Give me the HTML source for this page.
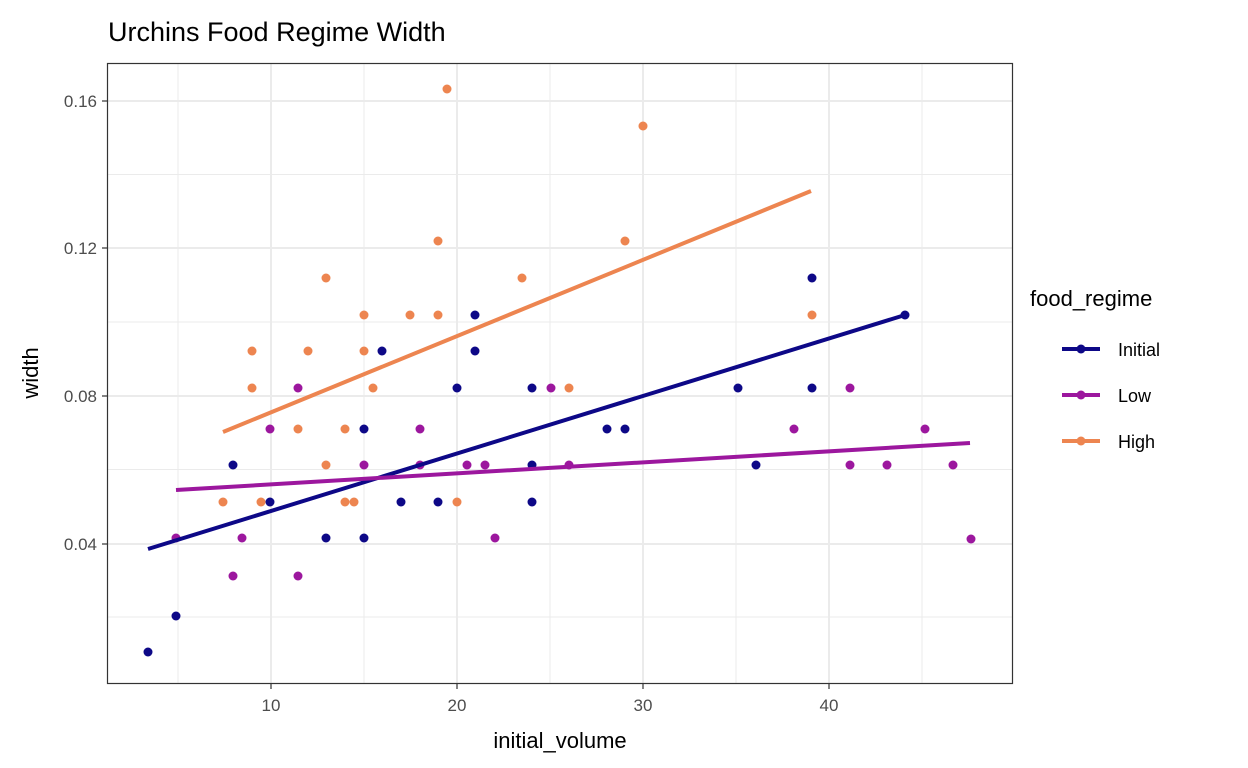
<!DOCTYPE html>
<html><head><style>body{margin:0;background:#fff}svg{display:block}text{font-family:"Liberation Sans",sans-serif}</style></head><body>
<svg width="1248" height="768" xmlns="http://www.w3.org/2000/svg">
<rect width="1248" height="768" fill="#fff"/>
<g stroke="#ebebeb" stroke-width="1">
<line x1="107" x2="1012" y1="174.5" y2="174.5"/><line x1="107" x2="1012" y1="322" y2="322"/><line x1="107" x2="1012" y1="469.5" y2="469.5"/><line x1="107" x2="1012" y1="617" y2="617"/>
<line y1="63" y2="683" x1="178" x2="178"/><line y1="63" y2="683" x1="364" x2="364"/><line y1="63" y2="683" x1="550" x2="550"/><line y1="63" y2="683" x1="736" x2="736"/><line y1="63" y2="683" x1="922" x2="922"/>
</g>
<g stroke="#ebebeb" stroke-width="2">
<line x1="107" x2="1012" y1="101" y2="101"/><line x1="107" x2="1012" y1="248" y2="248"/><line x1="107" x2="1012" y1="396" y2="396"/><line x1="107" x2="1012" y1="544" y2="544"/>
<line y1="63" y2="683" x1="271" x2="271"/><line y1="63" y2="683" x1="457" x2="457"/><line y1="63" y2="683" x1="643" x2="643"/><line y1="63" y2="683" x1="829" x2="829"/>
</g>
<g fill="#0D0887">
<circle cx="148" cy="652" r="4.5"/><circle cx="176" cy="616" r="4.5"/><circle cx="233" cy="465" r="4.5"/><circle cx="270" cy="502" r="4.5"/><circle cx="326" cy="538" r="4.5"/><circle cx="364" cy="538" r="4.5"/><circle cx="364" cy="429" r="4.5"/><circle cx="382" cy="351" r="4.5"/><circle cx="401" cy="502" r="4.5"/><circle cx="438" cy="502" r="4.5"/><circle cx="457" cy="388" r="4.5"/><circle cx="475" cy="315" r="4.5"/><circle cx="475" cy="351" r="4.5"/><circle cx="532" cy="388" r="4.5"/><circle cx="532" cy="465" r="4.5"/><circle cx="532" cy="502" r="4.5"/><circle cx="607" cy="429" r="4.5"/><circle cx="625" cy="429" r="4.5"/><circle cx="738" cy="388" r="4.5"/><circle cx="812" cy="278" r="4.5"/><circle cx="812" cy="388" r="4.5"/><circle cx="756" cy="465" r="4.5"/><circle cx="905" cy="315" r="4.5"/>
</g>
<g fill="#9C179E">
<circle cx="270" cy="429" r="4.5"/><circle cx="298" cy="388" r="4.5"/><circle cx="420" cy="429" r="4.5"/><circle cx="420" cy="465" r="4.5"/><circle cx="467" cy="465" r="4.5"/><circle cx="485" cy="465" r="4.5"/><circle cx="176" cy="538" r="4.5"/><circle cx="242" cy="538" r="4.5"/><circle cx="233" cy="576" r="4.5"/><circle cx="298" cy="576" r="4.5"/><circle cx="495" cy="538" r="4.5"/><circle cx="551" cy="388" r="4.5"/><circle cx="364" cy="465" r="4.5"/><circle cx="569" cy="465" r="4.5"/><circle cx="794" cy="429" r="4.5"/><circle cx="850" cy="388" r="4.5"/><circle cx="850" cy="465" r="4.5"/><circle cx="887" cy="465" r="4.5"/><circle cx="925" cy="429" r="4.5"/><circle cx="953" cy="465" r="4.5"/><circle cx="971" cy="539" r="4.5"/>
</g>
<g fill="#ED8550">
<circle cx="326" cy="278" r="4.5"/><circle cx="364" cy="315" r="4.5"/><circle cx="410" cy="315" r="4.5"/><circle cx="438" cy="315" r="4.5"/><circle cx="438" cy="241" r="4.5"/><circle cx="447" cy="89" r="4.5"/><circle cx="522" cy="278" r="4.5"/><circle cx="252" cy="351" r="4.5"/><circle cx="308" cy="351" r="4.5"/><circle cx="364" cy="351" r="4.5"/><circle cx="252" cy="388" r="4.5"/><circle cx="373" cy="388" r="4.5"/><circle cx="298" cy="429" r="4.5"/><circle cx="345" cy="429" r="4.5"/><circle cx="326" cy="465" r="4.5"/><circle cx="223" cy="502" r="4.5"/><circle cx="261" cy="502" r="4.5"/><circle cx="345" cy="502" r="4.5"/><circle cx="354" cy="502" r="4.5"/><circle cx="457" cy="502" r="4.5"/><circle cx="569" cy="388" r="4.5"/><circle cx="625" cy="241" r="4.5"/><circle cx="643" cy="126" r="4.5"/><circle cx="812" cy="315" r="4.5"/>
</g>
<g stroke-width="4" fill="none">
<line x1="223" y1="432" x2="811" y2="191" stroke="#ED8550"/>
<line x1="148" y1="549" x2="905" y2="315" stroke="#0D0887"/>
<line x1="176" y1="490" x2="970" y2="443" stroke="#9C179E"/>
</g>
<rect x="107.5" y="63.5" width="905" height="620" fill="none" stroke="#333" stroke-width="1.2"/>
<g stroke="#333" stroke-width="1.2">
<line x1="102" x2="107" y1="101" y2="101"/><line x1="102" x2="107" y1="248" y2="248"/><line x1="102" x2="107" y1="396" y2="396"/><line x1="102" x2="107" y1="544" y2="544"/>
<line y1="684" y2="689" x1="271" x2="271"/><line y1="684" y2="689" x1="457" x2="457"/><line y1="684" y2="689" x1="643" x2="643"/><line y1="684" y2="689" x1="829" x2="829"/>
</g>
<g fill="#4d4d4d" font-size="17" text-anchor="end">
<text x="97" y="107">0.16</text><text x="97" y="254">0.12</text><text x="97" y="402">0.08</text><text x="97" y="550">0.04</text>
</g>
<g fill="#4d4d4d" font-size="17" text-anchor="middle">
<text x="271" y="711">10</text><text x="457" y="711">20</text><text x="643" y="711">30</text><text x="829" y="711">40</text>
</g>
<text x="560" y="748" font-size="22" text-anchor="middle">initial_volume</text>
<text transform="translate(38,373) rotate(-90)" font-size="22" text-anchor="middle">width</text>
<text x="108" y="41" font-size="27">Urchins Food Regime Width</text>
<text x="1030" y="306" font-size="22">food_regime</text>
<g stroke-width="4"><line x1="1062" x2="1100" y1="349" y2="349" stroke="#0D0887"/><line x1="1062" x2="1100" y1="395" y2="395" stroke="#9C179E"/><line x1="1062" x2="1100" y1="441" y2="441" stroke="#ED8550"/></g>
<circle cx="1081" cy="349" r="4.5" fill="#0D0887"/><circle cx="1081" cy="395" r="4.5" fill="#9C179E"/><circle cx="1081" cy="441" r="4.5" fill="#ED8550"/>
<g font-size="18"><text x="1118" y="356">Initial</text><text x="1118" y="402">Low</text><text x="1118" y="448">High</text></g>
</svg>
</body></html>
